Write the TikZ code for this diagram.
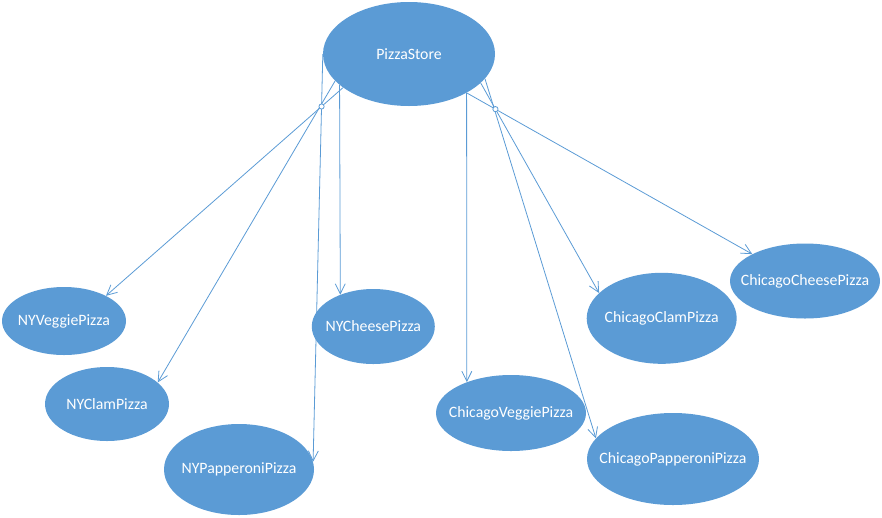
\documentclass[tikz,border=0pt]{standalone}
\usepackage{fontspec}
\setmainfont{Carlito}
\usetikzlibrary{shapes.geometric,arrows.meta,intersections}
\definecolor{officeblue}{HTML}{5B9BD5}
\begin{document}
\begin{tikzpicture}[x=1pt,y=-1pt,
  oval/.style={ellipse,fill=officeblue,draw=none,inner sep=0pt,
    label={[text=white,font=\fontsize{15.8}{18}\selectfont,inner sep=0pt]center:#1}},
  conn/.style={draw=officeblue,line width=0.8pt,-{Straight Barb[length=10pt,width=10pt]}},
  hop/.style={draw=officeblue,line width=0.8pt,fill=white}]
\useasboundingbox (0,0) rectangle (882,517);
\node[oval=PizzaStore,minimum width=172pt,minimum height=104pt] (ps) at (409,54) {};
\node[oval=NYVeggiePizza,minimum width=124pt,minimum height=68pt] (nyv) at (64,321) {};
\node[oval=NYClamPizza,minimum width=124pt,minimum height=74pt] (nycl) at (107,404) {};
\node[oval=NYPapperoniPizza,minimum width=150pt,minimum height=91pt] (nyp) at (239,469.5) {};
\node[oval=NYCheesePizza,minimum width=123pt,minimum height=75pt] (nych) at (373.3,326.5) {};
\node[oval=ChicagoVeggiePizza,minimum width=150pt,minimum height=76pt] (cv) at (511,413) {};
\node[oval=ChicagoPapperoniPizza,minimum width=172pt,minimum height=92pt] (cp) at (673,459) {};
\node[oval=ChicagoClamPizza,minimum width=150pt,minimum height=91pt] (ccl) at (661.7,318.3) {};
\node[oval=ChicagoCheesePizza,minimum width=150pt,minimum height=75pt] (cch) at (805,281) {};
% left group
\draw[conn,name path=lp] (ps.180) -- (nyp.6);
\draw[conn,name path=lv] (ps.207) -- (nyv.31);
\draw[conn,name path=lc] (ps.200) -- (nycl.23);
\draw[conn] (ps.204.2) -- (nych.136.5);
% right group
\draw[conn] (ps.326.5) -- (cv.145);
\draw[conn,name path=rch] (ps.326.5) -- (cch.153.9);
\draw[conn,name path=rcl] (ps.338.3) -- (ccl.158.3);
\draw[conn] (ps.342.8) -- (cp.165.8);
% line jumps
\path[name intersections={of=lp and lv,by=hl}];
\path[name intersections={of=rch and rcl,by=hr}];
\draw[hop] (hl) circle[radius=2.6];
\draw[hop] (hr) circle[radius=2.6];
\end{tikzpicture}
\end{document}
